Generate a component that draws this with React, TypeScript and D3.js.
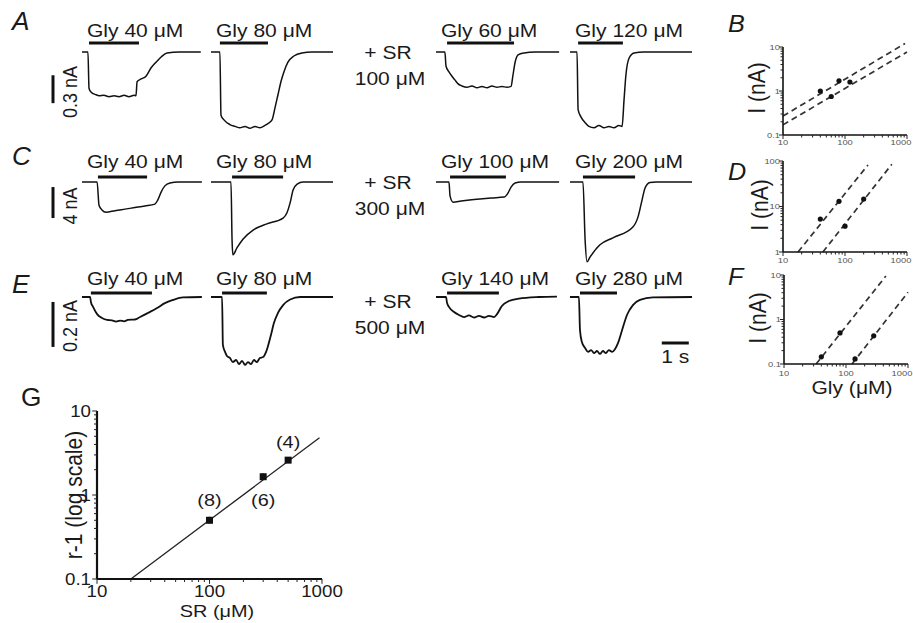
import React from 'react';
import * as d3 from 'd3';

type P = [number, number];

const FONT = '"Liberation Sans", Arial, Helvetica, sans-serif';

// ---- whole-cell currents, [time (s), current (nA)] ----
const traceA1: P[] = [[0,0],[0.22,0],[0.26,-0.39],[0.33,-0.43],[0.52,-0.46],[0.63,-0.47],[0.81,-0.465],[1.0,-0.48],[1.19,-0.47],[1.37,-0.48],[1.56,-0.465],[1.74,-0.48],[1.93,-0.465],[2.0,-0.47],[2.04,-0.32],[2.19,-0.29],[2.37,-0.26],[2.56,-0.17],[2.74,-0.11],[2.93,-0.054],[3.15,-0.01],[3.6,0],[4.4,0]];
const traceA2: P[] = [[0,0],[0.33,0],[0.37,-0.68],[0.48,-0.73],[0.70,-0.78],[0.89,-0.80],[1.07,-0.815],[1.26,-0.80],[1.44,-0.82],[1.63,-0.80],[1.81,-0.815],[2.0,-0.79],[2.11,-0.77],[2.26,-0.73],[2.37,-0.60],[2.48,-0.46],[2.59,-0.32],[2.70,-0.215],[2.85,-0.11],[3.07,-0.043],[3.37,-0.01],[3.74,0],[4.52,0]];
const traceA3: P[] = [[0,0],[0.33,0],[0.37,-0.15],[0.48,-0.215],[0.59,-0.26],[0.70,-0.30],[0.81,-0.34],[0.96,-0.365],[1.15,-0.38],[1.33,-0.365],[1.52,-0.385],[1.70,-0.37],[1.89,-0.385],[2.07,-0.365],[2.26,-0.38],[2.44,-0.37],[2.63,-0.38],[2.78,-0.37],[2.85,-0.25],[2.93,-0.11],[3.04,-0.03],[3.26,-0.01],[3.67,0],[4.56,0]];
const traceA4: P[] = [[0,0],[0.26,0],[0.30,-0.62],[0.41,-0.70],[0.56,-0.76],[0.70,-0.80],[0.89,-0.815],[1.07,-0.79],[1.26,-0.815],[1.44,-0.80],[1.63,-0.815],[1.81,-0.79],[1.93,-0.80],[2.0,-0.52],[2.07,-0.25],[2.19,-0.065],[2.37,-0.01],[2.74,0],[4.52,0]];

const traceC1: P[] = [[0,0],[0.56,0],[0.63,-3.0],[0.74,-3.6],[0.89,-3.9],[1.22,-3.7],[1.59,-3.5],[1.96,-3.3],[2.33,-3.1],[2.70,-2.85],[2.81,-2.3],[2.93,-1.3],[3.07,-0.5],[3.26,-0.13],[3.56,0],[4.44,0]];
const traceC2: P[] = [[0,0],[0.74,0],[0.78,-7.5],[0.81,-9.4],[0.96,-8.5],[1.19,-7.35],[1.56,-6.2],[2.07,-5.4],[2.67,-4.65],[2.81,-4.0],[2.93,-2.7],[3.04,-1.03],[3.19,-0.26],[3.41,0],[4.52,0]];
const traceC3: P[] = [[0,0],[0.48,0],[0.52,-1.8],[0.63,-2.6],[0.93,-2.45],[1.41,-2.25],[2.04,-2.05],[2.52,-1.95],[2.67,-1.4],[2.78,-0.65],[2.93,-0.13],[3.15,0],[4.56,0]];
const traceC4: P[] = [[0,0],[0.48,0],[0.56,-7.5],[0.63,-10.3],[0.74,-9.7],[1.11,-8.1],[1.59,-7.2],[2.33,-5.8],[2.52,-4.5],[2.67,-2.3],[2.78,-0.77],[2.96,-0.06],[3.19,0],[4.52,0]];

const traceE1: P[] = [[0,0],[0.30,0],[0.33,-0.022],[0.41,-0.044],[0.56,-0.076],[0.74,-0.093],[0.93,-0.102],[1.11,-0.104],[1.26,-0.109],[1.41,-0.105],[1.56,-0.108],[1.70,-0.102],[1.96,-0.10],[2.15,-0.089],[2.44,-0.071],[2.78,-0.049],[3.07,-0.027],[3.37,-0.013],[3.74,-0.002],[4.44,0]];
const traceE2: P[] = [[0,0],[0.41,0],[0.44,-0.213],[0.52,-0.244],[0.59,-0.262],[0.70,-0.271],[0.81,-0.289],[0.93,-0.28],[1.04,-0.298],[1.15,-0.284],[1.26,-0.302],[1.37,-0.289],[1.48,-0.298],[1.59,-0.28],[1.70,-0.289],[1.81,-0.271],[1.93,-0.267],[2.04,-0.244],[2.11,-0.218],[2.22,-0.169],[2.33,-0.116],[2.48,-0.071],[2.67,-0.036],[2.93,-0.011],[3.30,0],[4.52,0]];
const traceE3: P[] = [[0,0],[0.37,0],[0.41,-0.027],[0.48,-0.044],[0.67,-0.067],[0.85,-0.08],[1.04,-0.089],[1.22,-0.082],[1.41,-0.091],[1.59,-0.084],[1.78,-0.091],[1.96,-0.084],[2.15,-0.089],[2.26,-0.076],[2.44,-0.04],[2.70,-0.018],[3.07,-0.007],[3.81,0],[4.48,0.002]];
const traceE4: P[] = [[0,0],[0.33,0],[0.37,-0.147],[0.44,-0.2],[0.56,-0.227],[0.67,-0.244],[0.78,-0.236],[0.89,-0.249],[1.0,-0.24],[1.11,-0.253],[1.22,-0.24],[1.33,-0.249],[1.44,-0.236],[1.56,-0.244],[1.67,-0.231],[1.78,-0.204],[1.93,-0.147],[2.11,-0.08],[2.33,-0.036],[2.59,-0.013],[3.07,-0.002],[4.52,0]];

// glycine application bars (s) and labels
const barsA: P[] = [[0.26, 2.11], [0.33, 2.11], [0.41, 2.89], [0.30, 1.96]];
const barsC: P[] = [[0.59, 2.41], [0.78, 2.67], [0.52, 2.59], [0.48, 2.41]];
const barsE: P[] = [[0.33, 2.59], [0.41, 2.07], [0.41, 2.33], [0.37, 1.74]];
const glyA = ['Gly 40 μM', 'Gly 80 μM', 'Gly 60 μM', 'Gly 120 μM'];
const glyC = ['Gly 40 μM', 'Gly 80 μM', 'Gly 100 μM', 'Gly 200 μM'];
const glyE = ['Gly 40 μM', 'Gly 80 μM', 'Gly 140 μM', 'Gly 280 μM'];
const srConc = ['100 μM', '300 μM', '500 μM'];
const scaleNA = [0.3, 4, 0.2];
const scaleLbl = ['0.3 nA', '4 nA', '0.2 nA'];

// ---- log-log dose response (Gly μM, I nA) ----
const bCtrl: P[] = [[40, 1.0], [80, 1.7]];
const bSR: P[] = [[60, 0.75], [120, 1.6]];
const bFitCtrl: P[] = [[10, 0.27], [930, 12]];
const bFitSR: P[] = [[10, 0.17], [1000, 7.7]];
const dCtrl: P[] = [[40, 5.3], [80, 13]];
const dSR: P[] = [[100, 3.7], [200, 14.6]];
const dFitCtrl: P[] = [[17.5, 1], [235, 82]];
const dFitSR: P[] = [[44, 1], [570, 85]];
const fCtrl: P[] = [[40, 0.145], [80, 0.5]];
const fSR: P[] = [[140, 0.13], [280, 0.43]];
const fFitCtrl: P[] = [[33, 0.1], [440, 9.5]];
const fFitSR: P[] = [[125, 0.1], [1000, 4.1]];

// ---- Schild plot (SR μM, r-1) ----
const gSR: P[] = [[100, 0.5], [300, 1.65], [500, 2.6]];
const gErr: P[] = [[0.46, 0.55], [1.52, 1.8], [2.47, 2.75]];
const gN = ['(8)', '(6)', '(4)'];
const gFit: P[] = [[20, 0.1], [950, 4.8]];

// layout
const colX = [82, 211, 436, 570];
const PX_S = 27;
const SX = 1.17;

const rows = [
  { id: 'A', traces: [traceA1, traceA2, traceA3, traceA4], bars: barsA, labels: glyA, sr: srConc[0], sb: scaleNA[0], sbLbl: scaleLbl[0],
    base: 52, pxNA: 93, barY: 43, labY: 37, srY: 59, sbTop: -0.25, sbLblY: 92, letterY: 30, sw: 1.5 },
  { id: 'C', traces: [traceC1, traceC2, traceC3, traceC4], bars: barsC, labels: glyC, sr: srConc[1], sb: scaleNA[1], sbLbl: scaleLbl[1],
    base: 182, pxNA: 7.75, barY: 177, labY: 168, srY: 189, sbTop: -0.65, sbLblY: 206, letterY: 165, sw: 1.5 },
  { id: 'E', traces: [traceE1, traceE2, traceE3, traceE4], bars: barsE, labels: glyE, sr: srConc[2], sb: scaleNA[2], sbLbl: scaleLbl[2],
    base: 297, pxNA: 225, barY: 293, labY: 285, srY: 308, sbTop: -0.022, sbLblY: 326, letterY: 293, sw: 1.8 },
];

function Txt({ x, y, size = 18, anchor = 'start', sx = SX, italic = false, fill = '#1a1a1a', children }: any) {
  return (
    <text transform={`translate(${x},${y}) scale(${sx},1)`} fontSize={size} textAnchor={anchor}
      fontStyle={italic ? 'italic' : 'normal'} fill={fill}>{children}</text>
  );
}

function VTxt({ x, y, size = 18, children }: any) {
  return (
    <text transform={`translate(${x},${y}) scale(${SX},1) rotate(-90)`} fontSize={size} textAnchor="middle" fill="#1a1a1a">{children}</text>
  );
}

function TraceRow({ row }: any) {
  const y = d3.scaleLinear().domain([0, -1]).range([row.base, row.base + row.pxNA]);
  return (
    <g>
      <Txt x={12} y={row.letterY} size={25} italic sx={1.05}>{row.id}</Txt>
      {row.traces.map((tr: P[], i: number) => {
        const x = d3.scaleLinear().domain([0, 1]).range([colX[i], colX[i] + PX_S]);
        const line = d3.line<P>().x(d => x(d[0])).y(d => y(d[1])).curve(d3.curveMonotoneX);
        const [b0, b1] = row.bars[i];
        return (
          <g key={i}>
            <path d={line(tr) || ''} fill="none" stroke="#111" strokeWidth={row.sw} strokeLinejoin="round" />
            <line x1={x(b0)} x2={x(b1)} y1={row.barY} y2={row.barY} stroke="#111" strokeWidth={3} />
            <Txt x={colX[i] + 5} y={row.labY}>{row.labels[i]}</Txt>
          </g>
        );
      })}
      <line x1={53} x2={53} y1={y(row.sbTop)} y2={y(row.sbTop - row.sb)} stroke="#111" strokeWidth={3} />
      <VTxt x={77} y={row.sbLblY} size={18}>{row.sbLbl}</VTxt>
      <Txt x={388} y={row.srY} anchor="middle">+ SR</Txt>
      <Txt x={390} y={row.srY + 26} anchor="middle">{row.sr}</Txt>
    </g>
  );
}

function LogPlot({ xr, yr, xd, yd, series, fits, fs, tk, xOff, yOff, dashed, big, errs, ns, nOff, labFill, lastShift = 0 }: any) {
  const x = d3.scaleLog().domain(xd).range(xr);
  const y = d3.scaleLog().domain(yd).range(yr);
  const line = d3.line<P>().x(d => x(d[0])).y(d => y(d[1]));
  const isMajor = (v: number) => Math.abs(Math.log10(v) - Math.round(Math.log10(v))) < 1e-6;
  const fmt = (v: number) => (v < 1 ? v.toFixed(1) : String(Math.round(v)));
  const aw = big ? 2.2 : 1.6;
  const xMaj = x.ticks().filter(isMajor);
  return (
    <g>
      {fits.map((f: P[], i: number) => (
        <path key={i} d={line(f) || ''} fill="none" stroke={dashed ? '#333' : '#222'}
          strokeWidth={dashed ? 1.7 : 1.3} strokeDasharray={dashed ? '6,4' : undefined} />
      ))}
      <line x1={xr[0]} x2={xr[0]} y1={yr[0]} y2={yr[1]} stroke="#111" strokeWidth={aw} />
      <line x1={xr[0]} x2={xr[1]} y1={yr[0]} y2={yr[0]} stroke="#111" strokeWidth={aw} />
      {x.ticks().map((v, i) => (
        <line key={'xt' + i} x1={x(v)} x2={x(v)} y1={yr[0]} y2={yr[0] + (isMajor(v) ? tk * 1.6 : tk)} stroke="#222" strokeWidth={1} />
      ))}
      {y.ticks().map((v, i) => (
        <line key={'yt' + i} x1={xr[0]} x2={xr[0] - (isMajor(v) ? tk * 1.6 : tk)} y1={y(v)} y2={y(v)} stroke="#222" strokeWidth={1} />
      ))}
      {xMaj.map((v, i) => (
        <Txt key={'xl' + i} x={x(v) - (i === xMaj.length - 1 ? lastShift : 0)} y={yr[0] + xOff} size={fs} anchor="middle" fill={labFill}>{fmt(v)}</Txt>
      ))}
      {y.ticks().filter(isMajor).map((v, i) => (
        <Txt key={'yl' + i} x={xr[0] - yOff} y={y(v) + fs * 0.36} size={fs} anchor="end" fill={labFill}>{fmt(v)}</Txt>
      ))}
      {errs && errs.map((e: P, i: number) => (
        <line key={'e' + i} x1={x(series[0][i][0])} x2={x(series[0][i][0])} y1={y(e[0])} y2={y(e[1])} stroke="#111" strokeWidth={2} />
      ))}
      {series.map((s: P[], k: number) => s.map((d, i) =>
        big
          ? <rect key={k + '-' + i} x={x(d[0]) - 3.5} y={y(d[1]) - 3.5} width={7} height={7} fill="#111" />
          : <circle key={k + '-' + i} cx={x(d[0])} cy={y(d[1])} r={2.6} fill="#111" />
      ))}
      {ns && ns.map((n: string, i: number) => (
        <Txt key={'n' + i} x={x(series[0][i][0])} y={y(series[0][i][1]) + nOff[i]} size={17} anchor="middle">{n}</Txt>
      ))}
    </g>
  );
}

export default function App() {
  const small = { xd: [10, 1000], fs: 8, tk: 2.5, yOff: 3, dashed: true, labFill: '#555', lastShift: 6 };
  return (
    <svg width={913} height={623} style={{ position: 'absolute', left: 0, top: 0, display: 'block' }} fontFamily={FONT}>
      <rect width={913} height={623} fill="#fff" />
      {rows.map(r => <TraceRow key={r.id} row={r} />)}

      {/* time scale bar */}
      {(() => {
        const x = d3.scaleLinear().domain([0, 1]).range([colX[3], colX[3] + PX_S]);
        return (
          <g>
            <line x1={x(3.4)} x2={x(4.4)} y1={343} y2={343} stroke="#111" strokeWidth={3} />
            <Txt x={x(3.9)} y={363} anchor="middle">1 s</Txt>
          </g>
        );
      })()}

      {/* B, D, F */}
      <Txt x={728} y={32} size={24} italic sx={1.05}>B</Txt>
      <LogPlot {...small} xr={[783, 907]} yd={[0.1, 10]} yr={[135, 47]} xOff={10}
        series={[bCtrl, bSR]} fits={[bFitCtrl, bFitSR]} />
      <VTxt x={765} y={88} size={21}>I (nA)</VTxt>

      <Txt x={728} y={180} size={24} italic sx={1.05}>D</Txt>
      <LogPlot {...small} xr={[783, 907]} yd={[1, 100]} yr={[252, 161]} xOff={11}
        series={[dCtrl, dSR]} fits={[dFitCtrl, dFitSR]} />
      <VTxt x={768} y={205} size={21}>I (nA)</VTxt>

      <Txt x={728} y={285} size={24} italic sx={1.05}>F</Txt>
      <LogPlot {...small} xr={[784, 908]} yd={[0.1, 10]} yr={[364, 275]} xOff={12}
        series={[fCtrl, fSR]} fits={[fFitCtrl, fFitSR]} />
      <VTxt x={766} y={318} size={21}>I (nA)</VTxt>
      <Txt x={852} y={394} size={18} anchor="middle">Gly (μM)</Txt>

      {/* G */}
      <Txt x={21} y={406} size={25} sx={1.05}>G</Txt>
      <LogPlot xr={[97, 322]} xd={[10, 1000]} yd={[0.1, 10]} yr={[579, 411]} fs={16} tk={3} xOff={17.5} yOff={6}
        big series={[gSR]} fits={[gFit]} errs={gErr} ns={gN} nOff={[-14, 29, -12]} labFill="#1a1a1a" />
      <Txt x={217} y={617} size={17} anchor="middle">SR (μM)</Txt>
      <VTxt x={82} y={495} size={21}>r-1 (log scale)</VTxt>
    </svg>
  );
}
